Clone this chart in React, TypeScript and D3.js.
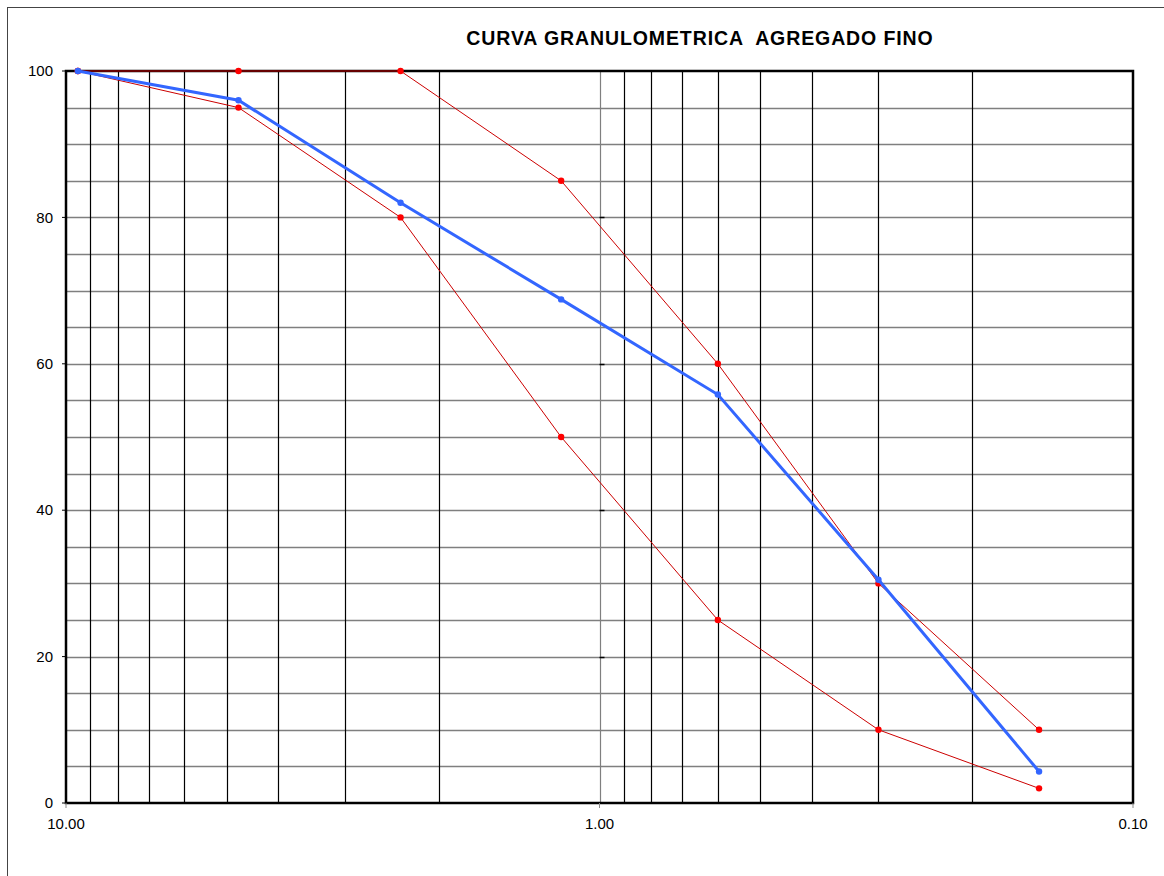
import React, { useEffect, useRef } from "react";
import * as d3 from "d3";

// sieve openings (mm) and % passing
const sieves = [9.5, 4.75, 2.36, 1.18, 0.6, 0.3, 0.15];
const passing = [100, 96, 82, 68.8, 55.8, 30.5, 4.3];
const upperLimit = [100, 100, 100, 85, 60, 30, 10];
const lowerLimit = [100, 95, 80, 50, 25, 10, 2];

const gridX = [9, 8, 7, 6, 5, 4, 3, 2, 1, 0.9, 0.8, 0.7, 0.6, 0.5, 0.4, 0.3, 0.2];
const xTickLabels = [10, 1, 0.1];
const yTicks = [0, 20, 40, 60, 80, 100];
const gridY = d3.range(5, 100, 5);

const font = "Arial, 'Liberation Sans', sans-serif";

const App = () => {
  const ref = useRef<SVGSVGElement>(null);

  useEffect(() => {
    const svg = d3.select(ref.current);
    svg.selectAll("*").remove();

    const margin = { top: 71, right: 31, bottom: 73, left: 66 };
    const W = 1164;
    const H = 876;
    const width = W - margin.left - margin.right;
    const height = H - margin.top - margin.bottom;

    // outer frame
    svg
      .append("rect")
      .attr("x", 7.5)
      .attr("y", 7.5)
      .attr("width", W + 20)
      .attr("height", H + 20)
      .attr("fill", "white")
      .attr("stroke", "#444")
      .attr("stroke-width", 1);

    svg
      .append("text")
      .attr("x", 700)
      .attr("y", 45)
      .attr("text-anchor", "middle")
      .style("font-family", font)
      .style("font-size", "19.5px")
      .style("font-weight", "bold")
      .style("letter-spacing", "0.9px")
      .style("white-space", "pre")
      .text("CURVA GRANULOMETRICA  AGREGADO FINO");

    const g = svg.append("g").attr("transform", `translate(${margin.left},${margin.top})`);

    const x = d3.scaleLog().domain([10, 0.1]).range([0, width]);
    const y = d3.scaleLinear().domain([0, 100]).range([height, 0]);

    // horizontal grid
    g.selectAll(".hgrid")
      .data(gridY)
      .enter()
      .append("line")
      .attr("x1", 0)
      .attr("x2", width)
      .attr("y1", (d) => Math.round(y(d)) + 0.5)
      .attr("y2", (d) => Math.round(y(d)) + 0.5)
      .attr("stroke", "#7f7f7f")
      .attr("stroke-width", 1.5);

    // vertical grid
    g.selectAll(".vgrid")
      .data(gridX)
      .enter()
      .append("line")
      .attr("x1", (d) => Math.round(x(d)) + 0.5)
      .attr("x2", (d) => Math.round(x(d)) + 0.5)
      .attr("y1", 0)
      .attr("y2", height)
      .attr("stroke", (d) => (d === 1 ? "#7f7f7f" : "#000"))
      .attr("stroke-width", 1.2);

    // small ticks at x = 1
    g.selectAll(".midtick")
      .data([20, 40, 60, 80])
      .enter()
      .append("line")
      .attr("x1", x(1))
      .attr("x2", x(1) + 5)
      .attr("y1", (d) => Math.round(y(d)) + 0.5)
      .attr("y2", (d) => Math.round(y(d)) + 0.5)
      .attr("stroke", "#000")
      .attr("stroke-width", 1.5);

    // plot border
    g.append("rect")
      .attr("x", 0)
      .attr("y", 0)
      .attr("width", width)
      .attr("height", height)
      .attr("fill", "none")
      .attr("stroke", "#000")
      .attr("stroke-width", 2.5);

    // y labels
    g.selectAll(".ylab")
      .data(yTicks)
      .enter()
      .append("text")
      .attr("x", -13)
      .attr("y", (d) => y(d))
      .attr("dy", "0.35em")
      .attr("text-anchor", "end")
      .style("font-family", font)
      .style("font-size", "15px")
      .text((d) => d);

    g.selectAll(".ytick")
      .data(yTicks)
      .enter()
      .append("line")
      .attr("x1", -4)
      .attr("x2", 0)
      .attr("y1", (d) => y(d))
      .attr("y2", (d) => y(d))
      .attr("stroke", "#000");

    // x labels
    g.selectAll(".xlab")
      .data(xTickLabels)
      .enter()
      .append("text")
      .attr("x", (d) => x(d))
      .attr("y", height + 26)
      .attr("text-anchor", "middle")
      .style("font-family", font)
      .style("font-size", "15px")
      .text((d) => d.toFixed(2));

    g.selectAll(".xtick")
      .data(xTickLabels)
      .enter()
      .append("line")
      .attr("x1", (d) => x(d))
      .attr("x2", (d) => x(d))
      .attr("y1", height)
      .attr("y2", height + 5)
      .attr("stroke", "#888");

    const line = d3
      .line<number>()
      .x((d, i) => x(sieves[i]))
      .y((d) => y(d));

    [upperLimit, lowerLimit].forEach((series) => {
      g.append("path")
        .datum(series)
        .attr("fill", "none")
        .attr("stroke", "#cc0000")
        .attr("stroke-width", 1)
        .attr("d", line);
      g.selectAll(null)
        .data(series)
        .enter()
        .append("circle")
        .attr("cx", (d, i) => x(sieves[i]))
        .attr("cy", (d) => y(d))
        .attr("r", 3.2)
        .attr("fill", "#ff0000");
    });

    g.append("path")
      .datum(passing)
      .attr("fill", "none")
      .attr("stroke", "#3366ff")
      .attr("stroke-width", 3)
      .attr("d", line);
    g.selectAll(null)
      .data(passing)
      .enter()
      .append("circle")
      .attr("cx", (d, i) => x(sieves[i]))
      .attr("cy", (d) => y(d))
      .attr("r", 3.2)
      .attr("fill", "#3366ff");
  }, []);

  return (
    <svg
      ref={ref}
      width={1164}
      height={876}
      style={{ position: "absolute", left: 0, top: 0, display: "block" }}
    />
  );
};

export default App;
